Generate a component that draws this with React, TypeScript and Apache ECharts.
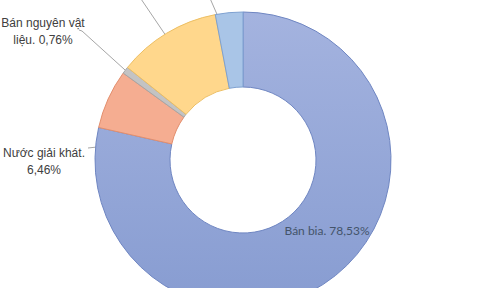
import React, { useEffect, useRef } from "react";
import * as echarts from "echarts";

const categories = ["Bán bia", "Nước giải khát", "Bán nguyên vật liệu", "Hàng hóa khác", "Dịch vụ"];
const values = [78.53, 6.46, 0.76, 11.25, 3.0];
const labelNames = ["Bán bia", "Nước giải khát", "Bán nguyên vật\nliệu", "", ""];
const labelSeparators = [" ", "\n", " ", "", ""];

const fills = [
  new echarts.graphic.LinearGradient(0, 0, 0, 1, [
    { offset: 0, color: "#A4B3DF" },
    { offset: 1, color: "#879CD1" },
  ]),
  "#F5AD91",
  "#C3C3C3",
  "#FFD78C",
  "#A9C5E7",
];
const borders = ["#6F86C2", "#E38F6E", "#A6A6A6", "#EDBF63", "#7EA1D1"];

export default function App() {
  const ref = useRef<HTMLDivElement>(null);
  useEffect(() => {
    document.body.style.margin = "0";
    const chart = echarts.init(ref.current!, undefined, { renderer: "svg" });
    const cx = 243;
    const cy = 160;
    const rIn = 73;
    const rOut = 148;
    const rMid = (rIn + rOut) / 2;

    const data = categories.map((name, i) => ({
      name,
      value: values[i],
      itemStyle: { color: fills[i], borderColor: borders[i], borderWidth: 1 },
      label:
        i === 0
          ? { show: true, position: "inside" as const, color: "#44546A", fontFamily: "Lato", fontSize: 12 }
          : { show: true, position: "outside" as const, color: "#404040", fontFamily: "Liberation Sans, Arial", fontSize: 12, lineHeight: 17 },
      labelLine: { show: i !== 0, lineStyle: { color: "#A6A6A6", width: 1 } },
    }));

    const midStart = (p: number[], r: number) => {
      const dx = p[0] - cx;
      const dy = p[1] - cy;
      const l = Math.sqrt(dx * dx + dy * dy) || 1;
      return [cx + (dx / l) * r, cy + (dy / l) * r];
    };

    chart.setOption({
      animation: false,
      series: [
        {
          type: "pie",
          center: [cx, cy],
          radius: [rIn, rOut],
          startAngle: 90,
          clockwise: true,
          avoidLabelOverlap: false,
          data,
          label: {
            formatter: (p: any) => {
              const i = p.dataIndex;
              if (!labelNames[i]) return " ";
              const pct = Number(p.value).toFixed(2).replace(".", ",");
              return `${labelNames[i]}.${labelSeparators[i]}${pct}%`;
            },
          },
          labelLayout: (params: any) => {
            const i = params.dataIndex;
            const pts = params.labelLinePoints;
            if (i === 0) {
              return { x: 327, y: 230, align: "center", verticalAlign: "middle" };
            }
            if (i === 1) {
              const s = pts ? midStart(pts[0], rMid) : [143, 115];
              return {
                x: 44, y: 161, align: "center", verticalAlign: "middle",
                labelLinePoints: [s, [97, 147], [88, 148]],
              };
            }
            if (i === 2) {
              const s = pts ? midStart(pts[0], rOut) : [125, 70];
              return {
                x: 43, y: 31, align: "center", verticalAlign: "middle",
                labelLinePoints: [s, [82, 31], [79, 30]],
              };
            }
            if (i === 3) {
              const s = pts ? midStart(pts[0], rMid) : [185, 66];
              return { x: 138, y: -12, align: "center", verticalAlign: "middle", labelLinePoints: [s, [139, -4], [138, -6]] };
            }
            const s = pts ? midStart(pts[0], rMid) : [233, 50];
            return { x: 208, y: -12, align: "center", verticalAlign: "middle", labelLinePoints: [s, [209, -4], [208, -6]] };
          },
        },
      ],
    });
    return () => chart.dispose();
  }, []);
  return <div ref={ref} style={{ position: "absolute", left: 0, top: 0, width: 480, height: 288, background: "#fff" }} />;
}
